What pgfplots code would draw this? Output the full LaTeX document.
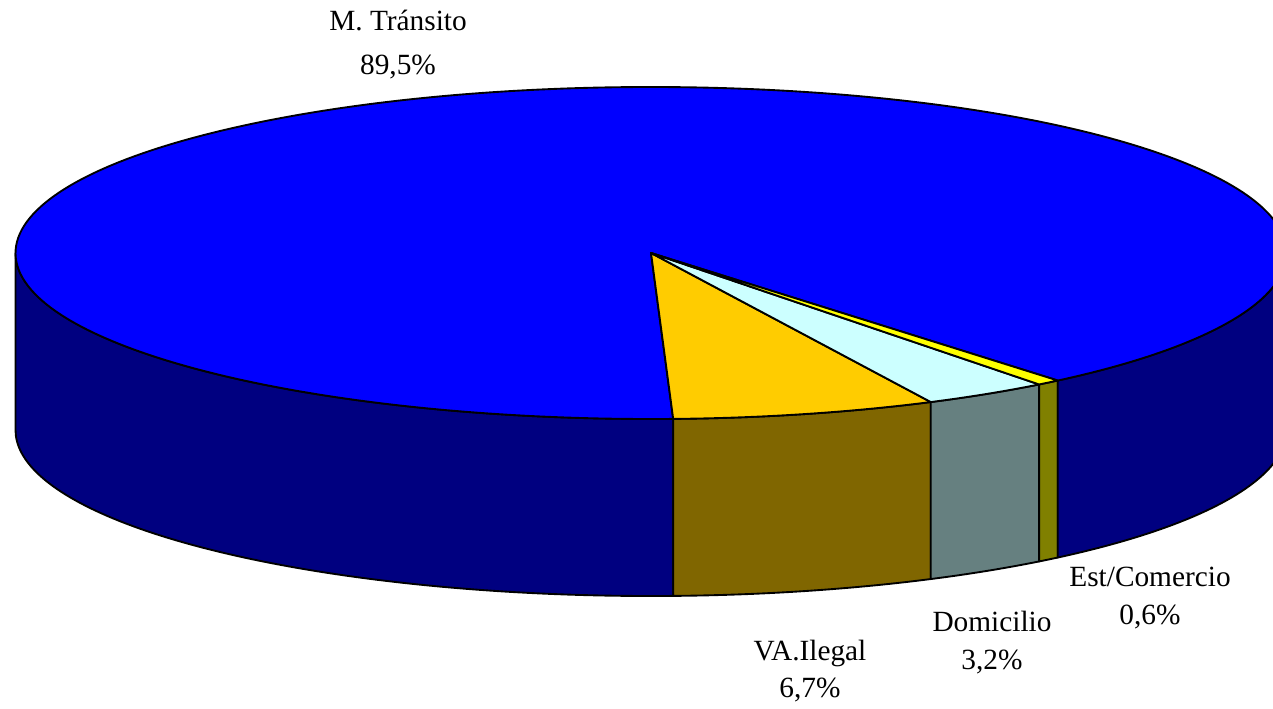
\documentclass[border=0pt]{standalone}
\usepackage{pgfplots}
\pgfplotsset{compat=1.18}
\usepackage{pgfplotstable}
\usepackage{fontspec}
\setmainfont{Liberation Serif}

\definecolor{mtTop}{RGB}{0,0,255}
\definecolor{mtSide}{RGB}{0,0,128}
\definecolor{vaTop}{RGB}{255,204,0}
\definecolor{vaSide}{RGB}{128,102,0}
\definecolor{doTop}{RGB}{204,255,255}
\definecolor{doSide}{RGB}{102,128,128}
\definecolor{esTop}{RGB}{255,255,0}
\definecolor{esSide}{RGB}{128,128,0}

% share of each slice (percent), in drawing order (counter-clockwise)
\pgfplotstableread{
idx value
0 6.7
1 3.2
2 0.6
3 89.5
}\piedata

\pgfplotstablegetelem{0}{value}\of\piedata \let\vA\pgfplotsretval
\pgfplotstablegetelem{1}{value}\of\piedata \let\vB\pgfplotsretval
\pgfplotstablegetelem{2}{value}\of\piedata \let\vC\pgfplotsretval
\pgfplotstablegetelem{3}{value}\of\piedata \let\vD\pgfplotsretval

% geometry (pixel units of the axis)
\def\cx{651}\def\cy{455}\def\ra{635.5}\def\rb{166}\def\dep{177}
\def\RX{476.625pt}\def\RY{124.5pt}
\pgfmathsetmacro\tA{-88}
\pgfmathsetmacro\tB{\tA+3.6*\vA}
\pgfmathsetmacro\tC{\tB+3.6*\vB}
\pgfmathsetmacro\tD{\tC+3.6*\vC}
\pgfmathsetmacro\tE{\tD+3.6*\vD}
\pgfmathsetmacro\tAA{\tA+360}

\newcommand\sidepiece[3]{%
  \filldraw[fill=#1,draw=black,line width=1.4pt,line join=round]
    (axis cs:{\cx+\ra*cos(#2)},{\cy+\rb*sin(#2)})
    arc[start angle=#2,end angle=#3,x radius=\RX,y radius=\RY]
    -- (axis cs:{\cx+\ra*cos(#3)},{\cy-\dep+\rb*sin(#3)})
    arc[start angle=#3,end angle=#2,x radius=\RX,y radius=\RY]
    -- cycle;}
\newcommand\toppiece[3]{%
  \filldraw[fill=#1,draw=black,line width=1.4pt,line join=round]
    (axis cs:\cx,\cy) -- (axis cs:{\cx+\ra*cos(#2)},{\cy+\rb*sin(#2)})
    arc[start angle=#2,end angle=#3,x radius=\RX,y radius=\RY]
    -- cycle;}

\begin{document}
\begin{tikzpicture}
\begin{axis}[scale only axis, width=954.75pt, height=531pt,
  xmin=0, xmax=1273, ymin=0, ymax=708, hide axis, clip=true]
  \path (axis cs:0,0) rectangle (axis cs:1273,708);
  % sides
  \sidepiece{mtSide}{180}{\tAA}
  \sidepiece{vaSide}{\tA}{\tB}
  \sidepiece{doSide}{\tB}{\tC}
  \sidepiece{esSide}{\tC}{\tD}
  \sidepiece{mtSide}{\tD}{0}
  % top
  \toppiece{mtTop}{\tD}{\tAA}
  \toppiece{vaTop}{\tA}{\tB}
  \toppiece{doTop}{\tB}{\tC}
  \toppiece{esTop}{\tC}{\tD}
  % labels
  \node[align=center,font=\fontsize{22}{33}\selectfont] at (axis cs:398,663) {M. Tránsito\\89,5\%};
  \node[align=center,font=\fontsize{22}{28}\selectfont] at (axis cs:810,37) {VA.Ilegal\\6,7\%};
  \node[align=center,font=\fontsize{22}{28.5}\selectfont] at (axis cs:992,65) {Domicilio\\3,2\%};
  \node[align=center,font=\fontsize{22}{29}\selectfont] at (axis cs:1150,110) {Est/Comercio\\0,6\%};
\end{axis}
\end{tikzpicture}
\end{document}
